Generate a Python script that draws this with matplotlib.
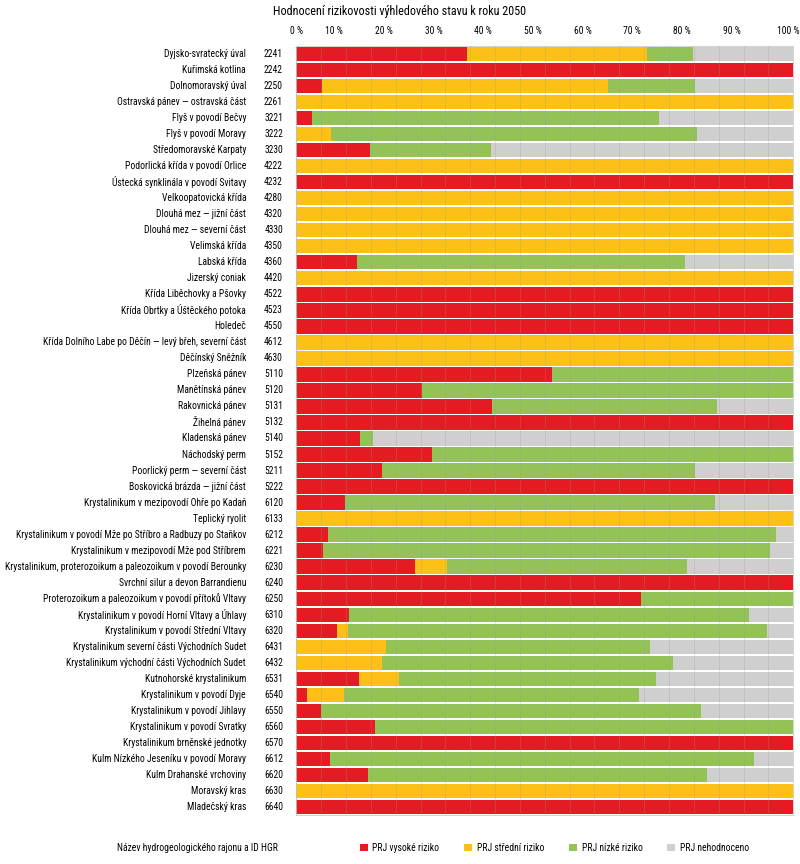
import matplotlib
matplotlib.use("Agg")
import matplotlib.pyplot as plt
from matplotlib.patches import Patch
from matplotlib import font_manager
from matplotlib.font_manager import FontProperties
import matplotlib.transforms as mtransforms
import numpy as np

# Název rajonu, ID HGR a podíly (%) kategorií
nazvy = [
    "Dyjsko-svratecký úval", "Kuřimská kotlina", "Dolnomoravský úval",
    "Ostravská pánev — ostravská část", "Flyš v povodí Bečvy", "Flyš v povodí Moravy",
    "Středomoravské Karpaty", "Podorlická křída v povodí Orlice",
    "Ústecká synklinála v povodí Svitavy", "Velkoopatovická křída",
    "Dlouhá mez — jižní část", "Dlouhá mez — severní část", "Velimská křída",
    "Labská křída", "Jizerský coniak", "Křída Liběchovky a Pšovky",
    "Křída Obrtky a Úštěckého potoka", "Holedeč",
    "Křída Dolního Labe po Děčín — levý břeh, severní část", "Děčínský Sněžník",
    "Plzeňská pánev", "Manětínská pánev", "Rakovnická pánev", "Žihelná pánev",
    "Kladenská pánev", "Náchodský perm", "Poorlický perm — severní část",
    "Boskovická brázda — jižní část", "Krystalinikum v mezipovodí Ohře po Kadaň",
    "Teplický ryolit", "Krystalinikum v povodí Mže po Stříbro a Radbuzy po Staňkov",
    "Krystalinikum v mezipovodí Mže pod Stříbrem",
    "Krystalinikum, proterozoikum a paleozoikum v povodí Berounky",
    "Svrchní silur a devon Barrandienu",
    "Proterozoikum a paleozoikum v povodí přítoků Vltavy",
    "Krystalinikum v povodí Horní Vltavy a Úhlavy",
    "Krystalinikum v povodí Střední Vltavy",
    "Krystalinikum severní části Východních Sudet",
    "Krystalinikum východní části Východních Sudet", "Kutnohorské krystalinikum",
    "Krystalinikum v povodí Dyje", "Krystalinikum v povodí Jihlavy",
    "Krystalinikum v povodí Svratky", "Krystalinikum brněnské jednotky",
    "Kulm Nízkého Jeseníku v povodí Moravy", "Kulm Drahanské vrchoviny",
    "Moravský kras", "Mladečský kras",
]
id_hgr = [
    "2241", "2242", "2250", "2261", "3221", "3222", "3230", "4222", "4232", "4280",
    "4320", "4330", "4350", "4360", "4420", "4522", "4523", "4550", "4612", "4630",
    "5110", "5120", "5131", "5132", "5140", "5152", "5211", "5222", "6120", "6133",
    "6212", "6221", "6230", "6240", "6250", "6310", "6320", "6431", "6432", "6531",
    "6540", "6550", "6560", "6570", "6612", "6620", "6630", "6640",
]
vysoke = [34.4, 100, 5.2, 0, 3.2, 0, 14.9, 0, 100, 0,
          0, 0, 0, 12.3, 0, 100, 100, 100, 0, 0,
          51.5, 25.2, 39.3, 100, 12.8, 27.3, 17.3, 100, 9.8, 0,
          6.4, 5.4, 23.8, 100, 69.3, 10.6, 8.2, 0, 0, 12.7,
          2.1, 5.0, 15.8, 100, 6.8, 14.4, 0, 100]
stredni = [36.2, 0, 57.6, 100, 0, 6.9, 0, 100, 0, 100,
           100, 100, 100, 0, 100, 0, 0, 0, 100, 100,
           0, 0, 0, 0, 0, 0, 0, 0, 0, 100,
           0, 0, 6.5, 0, 0, 0, 2.1, 18.1, 17.2, 8.0,
           7.5, 0, 0, 0, 0, 0, 100, 0]
nizke = [9.3, 0, 17.4, 0, 69.7, 73.8, 24.3, 0, 0, 0,
         0, 0, 0, 66.0, 0, 0, 0, 0, 0, 0,
         48.5, 74.8, 45.4, 0, 2.6, 72.7, 63.0, 0, 74.5, 0,
         90.1, 89.9, 48.4, 0, 30.7, 80.5, 84.5, 53.1, 58.6, 51.7,
         59.4, 76.5, 84.2, 0, 85.3, 68.2, 0, 0]
nehodnoceno = [20.1, 0, 19.8, 0, 27.1, 19.3, 60.8, 0, 0, 0,
               0, 0, 0, 21.7, 0, 0, 0, 0, 0, 0,
               0, 0, 15.3, 0, 84.6, 0, 19.7, 0, 15.7, 0,
               3.5, 4.7, 21.3, 0, 0, 8.9, 5.2, 28.8, 24.2, 27.6,
               31.0, 18.5, 0, 0, 7.9, 17.4, 0, 0]

kategorie = ["PRJ vysoké riziko", "PRJ střední riziko", "PRJ nízké riziko", "PRJ nehodnoceno"]
barvy = ["#E41B22", "#FDC016", "#93C356", "#D0CFCF"]

# úzké písmo, pokud je k dispozici
font_soubor = None
for f in font_manager.fontManager.ttflist:
    if f.name in ("Liberation Sans Narrow", "Roboto Condensed", "Open Sans Condensed") and f.weight in (400, "normal", "regular") and f.style == "normal":
        font_soubor = f.fname
        break
if font_soubor is None:
    for f in font_manager.fontManager.ttflist:
        if f.name == "DejaVu Sans" and f.stretch == "condensed" and f.style == "normal" and f.weight in (400, "normal"):
            font_soubor = f.fname
            break
if font_soubor:
    fp = FontProperties(fname=font_soubor)
else:
    fp = FontProperties(family="DejaVu Sans")

fig = plt.figure(figsize=(8, 8.64), dpi=100)
ax = fig.add_axes([0.3704, 0.0567, 0.6212, 0.8901])

# velikost písma tak, aby nejširší název vyšel na cca 241 px
renderer = fig.canvas.get_renderer()
sirka = 0
for n in nazvy:
    zkouska = fig.text(0, 0, n, fontproperties=fp, fontsize=7)
    sirka = max(sirka, zkouska.get_window_extent(renderer).width)
    zkouska.remove()
vel = 7.0 * 241 / sirka

y = np.arange(len(nazvy))
zleva = np.zeros(len(nazvy))
for hodnoty, barva in zip([vysoke, stredni, nizke, nehodnoceno], barvy):
    hodnoty = np.array(hodnoty)
    ax.barh(y, hodnoty, left=zleva, height=0.9, color=barva, linewidth=0, zorder=2)
    zleva += hodnoty

ax.set_xlim(0, 100)
ax.set_ylim(len(nazvy) - 0.5, -0.5)

# mřížka po 5 % přes pruhy
ax.set_xticks(np.arange(0, 101, 5), minor=True)
ax.grid(True, axis='x', which='both', color='#999999', alpha=0.3, linewidth=0.6, zorder=3)
ax.set_axisbelow(False)

ax.xaxis.tick_top()
ax.set_xticks(np.arange(0, 101, 10))
ax.set_xticklabels([f"{v} %" for v in range(0, 101, 10)])
ax.tick_params(axis='x', which='both', length=0, pad=7)
posun = mtransforms.ScaledTranslation(-12 / 100, 0, fig.dpi_scale_trans)
popisky = ax.get_xticklabels()
for i, lab in enumerate(popisky):
    lab.set_fontproperties(fp)
    lab.set_fontsize(vel)
    if 0 < i < len(popisky) - 1:
        lab.set_transform(lab.get_transform() + posun)
popisky[-1].set_ha('right')
popisky[-1].set_transform(popisky[-1].get_transform() + mtransforms.ScaledTranslation(6 / 100, 0, fig.dpi_scale_trans))
ax.set_yticks([])
for s in ax.spines.values():
    s.set_color('#cccccc')
    s.set_linewidth(0.6)

trans = ax.get_yaxis_transform()
for i, (n, k) in enumerate(zip(nazvy, id_hgr)):
    ax.text(-0.1012, i, n, transform=trans, ha='right', va='center', fontproperties=fp, fontsize=vel)
    ax.text(-0.0268, i, k, transform=trans, ha='right', va='center', fontproperties=fp, fontsize=vel)

fig.text(0.499, 0.987, "Hodnocení rizikovosti výhledového stavu k roku 2050",
         ha='center', va='center', fontproperties=fp, fontsize=vel * 1.27)

fig.text(0.146, 0.0185, "Název hydrogeologického rajonu a ID HGR",
         ha='left', va='center', fontproperties=fp, fontsize=vel)
handles = [Patch(facecolor=b, edgecolor='none') for b in barvy]
leg_fp = fp.copy()
leg_fp.set_size(vel)
fig.legend(handles, kategorie, ncol=4, loc='center left', bbox_to_anchor=(0.439, 0.0185),
           frameon=False, prop=leg_fp, handlelength=0.8, handleheight=0.8,
           handletextpad=0.5, columnspacing=2.6)

fig.savefig("out.png", dpi=100)
